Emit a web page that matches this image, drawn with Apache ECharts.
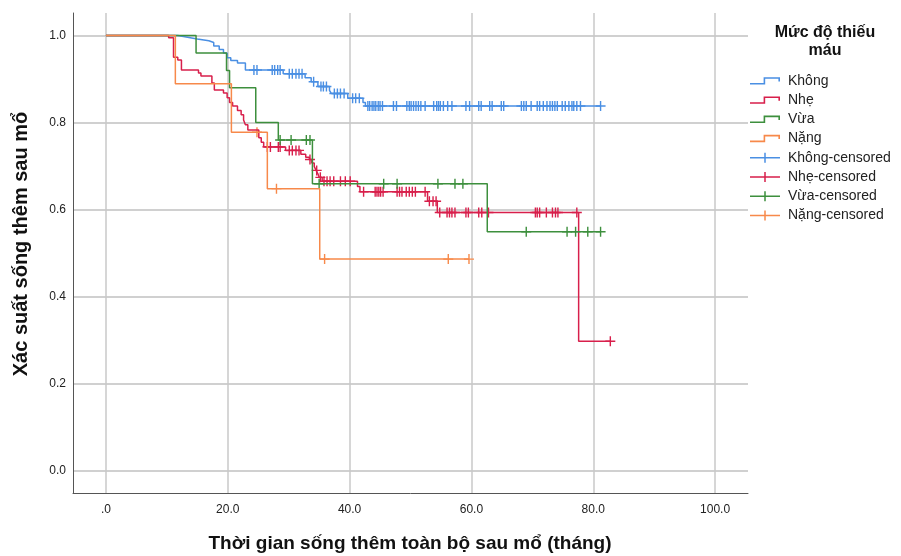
<!DOCTYPE html>
<html>
<head>
<meta charset="utf-8">
<script src="https://cdn.jsdelivr.net/npm/echarts@6/dist/echarts.min.js"></script>
<style>
  html, body { margin: 0; padding: 0; background: #fff; }
  #chart { width: 901px; height: 556px; }
</style>
</head>
<body>
<div id="chart"></div>
<script>
// Kaplan–Meier survival by anaemia grade (months after surgery)

// Event times (months) and survival after each step
const khongTimes = [0, 11.8, 13.4, 15.0, 16.9, 17.7, 18.6, 19.3, 19.9, 20.5, 21.6, 22.9, 29.1, 32.7, 33.7, 34.8, 36.7, 37.0, 39.7, 42.2, 42.6];
const khongSurv  = [1, 0.996, 0.992, 0.988, 0.984, 0.976, 0.968, 0.960, 0.949, 0.943, 0.937, 0.921, 0.912, 0.903, 0.894, 0.883, 0.874, 0.867, 0.856, 0.846, 0.838];
const khongCensor = [24.3, 24.8, 27.3, 27.7, 28.2, 28.6, 30.1, 30.6, 31.2, 31.7, 32.2, 34.1, 35.3, 35.7, 36.2,
  37.5, 38.0, 38.5, 39.1, 40.5, 41.0, 41.6,
  43.0, 43.3, 43.7, 44.0, 44.3, 44.7, 45.0, 45.4, 47.2, 47.7,
  49.4, 49.8, 50.1, 50.5, 50.9, 51.3, 51.7, 52.4, 53.8, 54.3, 54.6, 54.9, 55.4, 56.1, 56.8,
  59.1, 59.7, 61.2, 61.6, 63.0, 63.4, 64.9, 65.3, 68.2, 68.6, 69.0, 69.8, 70.8, 71.2, 71.8,
  72.4, 72.9, 73.3, 73.7, 74.1, 74.9, 75.4, 76.0, 76.5, 76.8, 77.3, 77.9, 81.2];

const nheTimes = [0, 10.3, 11.1, 11.8, 12.4, 15.2, 15.6, 17.4, 17.8, 19.3, 19.9, 20.3, 20.8, 21.6, 22.2, 22.6, 22.9, 23.3,
  25.1, 25.5, 25.9, 29.5, 32.0, 32.8, 33.4, 33.8, 34.2, 34.5, 34.8, 35.0, 35.5, 41.3, 41.7, 52.8, 54.4, 77.6];
const nheSurv  = [1, 0.995, 0.950, 0.944, 0.921, 0.914, 0.907, 0.891, 0.875, 0.868, 0.857, 0.846, 0.838, 0.828, 0.818, 0.806, 0.795, 0.783,
  0.765, 0.755, 0.744, 0.736, 0.727, 0.720, 0.715, 0.707, 0.699, 0.690, 0.682, 0.674, 0.665, 0.653, 0.641, 0.619, 0.593, 0.297];
const nheCensor = [26.5, 27.0, 28.3, 28.6, 30.1, 30.6, 31.2, 31.7, 33.5, 34.6, 35.2,
  35.8, 36.3, 36.8, 37.4, 38.5, 39.3, 40.1,
  42.3, 44.2, 44.5, 44.8, 45.1, 45.5, 47.8, 48.2, 48.6, 49.3, 49.8, 50.3, 50.8, 52.4,
  53.1, 53.7, 54.2,
  54.8, 56.0, 56.4, 56.8, 57.3, 59.1, 59.5, 61.2, 61.7, 62.8, 70.5, 70.8, 71.2, 72.3, 73.3, 73.8, 74.2, 77.3,
  82.8];

const vuaTimes = [0, 14.8, 19.8, 20.3, 24.6, 28.3, 33.9, 62.6];
const vuaSurv  = [1, 0.960, 0.920, 0.880, 0.800, 0.760, 0.659, 0.549];
const vuaCensor = [28.6, 30.4, 32.9, 33.5, 35.0, 45.6, 47.8, 54.5, 57.3, 58.6, 69.0, 75.7, 77.1, 79.1, 81.2];

const nangTimes = [0, 11.4, 20.6, 26.5, 35.1];
const nangSurv  = [1, 0.889, 0.778, 0.648, 0.486];
const nangCensor = [24.8, 28.0, 35.9, 56.2, 59.6];

const groupNames = ['Không', 'Nhẹ', 'Vừa', 'Nặng'];
const groupColors = ['#4a8fe3', '#d81f4b', '#3d8f3d', '#f7894a'];
const xTicks = [0, 20, 40, 60, 80, 100];
const yTicks = [0, 0.2, 0.4, 0.6, 0.8, 1.0];

const groups = [
  { times: khongTimes, surv: khongSurv, censor: khongCensor },
  { times: nheTimes, surv: nheSurv, censor: nheCensor },
  { times: vuaTimes, surv: vuaSurv, censor: vuaCensor },
  { times: nangTimes, surv: nangSurv, censor: nangCensor }
];

// survival estimate in effect at time t
function survAt(g, t) {
  let s = g.surv[0];
  for (let i = 0; i < g.times.length; i++) {
    if (g.times[i] <= t) s = g.surv[i];
  }
  return s;
}

const FONT = "'Liberation Sans', Arial, sans-serif";
const stepIcon = 'path://M0,0L0.01,0L0,0.01Z M30,10L29.99,10L30,9.99Z M0,7L15.2,7L15.2,8.6L0,8.6Z M13.6,1.2L15.2,1.2L15.2,8.6L13.6,8.6Z M13.6,1.2L30,1.2L30,2.8L13.6,2.8Z M28.4,1.2L30,1.2L30,5.5L28.4,5.5Z';
const censorIcon = 'path://M0,4.25L30,4.25L30,5.75L0,5.75Z M14.25,0L15.75,0L15.75,10L14.25,10Z';
const plusSymbol = 'path://M4.3,0L5.7,0L5.7,10L4.3,10Z M0,4.3L10,4.3L10,5.7L0,5.7Z';

const series = [];
groups.forEach((g, i) => {
  const data = g.times.map((t, k) => [t, g.surv[k]]);
  const end = Math.max(...g.censor, ...g.times);
  data.push([end, survAt(g, end)]);
  series.push({
    name: groupNames[i],
    type: 'line',
    step: 'end',
    data: data,
    showSymbol: false,
    symbol: 'none',
    lineStyle: { color: groupColors[i], width: 1.5 },
    itemStyle: { color: groupColors[i] },
    silent: true
  });
});
groups.forEach((g, i) => {
  series.push({
    name: groupNames[i] + '-censored',
    type: 'scatter',
    data: g.censor.map(t => [t, survAt(g, t)]),
    symbol: plusSymbol,
    symbolSize: [10, 10],
    itemStyle: { color: groupColors[i], opacity: 1 },
    silent: true
  });
});

const legendData = groupNames.map(n => ({ name: n, icon: stepIcon }))
  .concat(groupNames.map(n => ({ name: n + '-censored', icon: censorIcon })));

const chart = echarts.init(document.getElementById('chart'), null, { renderer: 'canvas' });
chart.setOption({
  animation: false,
  backgroundColor: '#ffffff',
  textStyle: { fontFamily: FONT },
  grid: { left: 73, top: 13, width: 675, height: 480, containLabel: false },
  xAxis: {
    type: 'value',
    min: -5.4,
    max: 105.4,
    axisLine: { show: true, onZero: false, lineStyle: { color: '#555', width: 1 } },
    axisTick: { show: false, customValues: xTicks },
    axisLabel: {
      customValues: xTicks,
      margin: 11,
      fontSize: 12,
      color: '#222',
      fontFamily: FONT,
      formatter: v => (v === 0 ? '.0' : v.toFixed(1))
    },
    splitLine: { show: true, lineStyle: { color: '#c9c9c9', width: 1.5 } }
  },
  yAxis: {
    type: 'value',
    min: -0.052,
    max: 1.052,
    axisLine: { show: true, onZero: false, lineStyle: { color: '#555', width: 1 } },
    axisTick: { show: false, customValues: yTicks },
    axisLabel: {
      customValues: yTicks,
      margin: 7,
      fontSize: 12,
      color: '#222',
      fontFamily: FONT,
      formatter: v => v.toFixed(1)
    },
    splitLine: { show: true, lineStyle: { color: '#d0d0d0', width: 2 } }
  },
  legend: {
    orient: 'vertical',
    left: 750,
    top: 73,
    padding: 0,
    itemWidth: 30,
    itemHeight: 10,
    itemGap: 3.2,
    selectedMode: false,
    data: legendData,
    textStyle: { fontSize: 14, color: '#222', fontFamily: FONT, lineHeight: 16, padding: [0, 0, 0, 3] }
  },
  graphic: [
    {
      type: 'text',
      x: 825,
      y: 23,
      style: {
        text: 'Mức độ thiếu\nmáu',
        align: 'center',
        verticalAlign: 'top',
        fontFamily: FONT,
        fontWeight: 'bold',
        fontSize: 16,
        lineHeight: 18.5,
        fill: '#111'
      }
    },
    {
      type: 'text',
      x: 410,
      y: 544,
      style: {
        text: 'Thời gian sống thêm toàn bộ sau mổ (tháng)',
        align: 'center',
        verticalAlign: 'middle',
        fontFamily: FONT,
        fontWeight: 'bold',
        fontSize: 19,
        fill: '#111'
      }
    },
    {
      type: 'text',
      x: 21,
      y: 244,
      rotation: Math.PI / 2,
      style: {
        text: 'Xác suất sống thêm sau mổ',
        align: 'center',
        verticalAlign: 'middle',
        fontFamily: FONT,
        fontWeight: 'bold',
        fontSize: 20,
        fill: '#111'
      }
    }
  ],
  series: series
});
</script>
</body>
</html>
